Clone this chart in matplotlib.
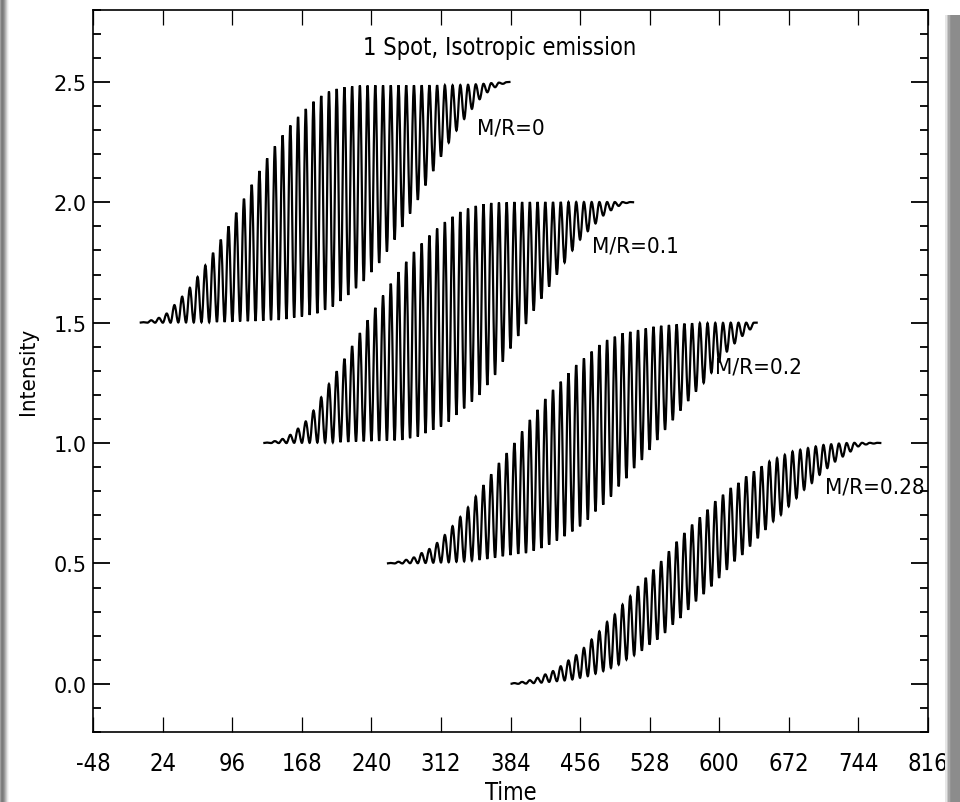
import os
import numpy as np
import matplotlib
matplotlib.use('Agg')
import matplotlib.pyplot as plt
from matplotlib import font_manager as fm
from matplotlib.ticker import MultipleLocator
from matplotlib.patches import Rectangle, PathPatch
from matplotlib.path import Path

# light curves: one trough / peak value per 8-unit rotation
labels = ['M/R=0', 'M/R=0.1', 'M/R=0.2', 'M/R=0.28']
t_start = [0, 128, 256, 384]
t_end = [384, 512, 640, 768]

peaks_0 = [1.502, 1.510, 1.520, 1.538, 1.573, 1.608, 1.645, 1.690, 1.738, 1.790,
           1.845, 1.900, 1.957, 2.015, 2.073, 2.130, 2.183, 2.233, 2.278, 2.319,
           2.355, 2.388, 2.418, 2.442, 2.460, 2.471, 2.478, 2.482, 2.485, 2.485,
           2.486, 2.486, 2.486, 2.486, 2.486, 2.486, 2.486, 2.486, 2.486, 2.486,
           2.486, 2.487, 2.488, 2.490, 2.492, 2.495, 2.497, 2.499]
troughs_0 = [1.500, 1.500, 1.500, 1.500, 1.500, 1.501, 1.501, 1.501, 1.502,
             1.502, 1.503, 1.503, 1.504, 1.505, 1.506, 1.507, 1.508, 1.510,
             1.511, 1.515, 1.521, 1.525, 1.532, 1.539, 1.553, 1.567, 1.590, 1.615, 1.643, 1.673,
             1.710, 1.748, 1.795, 1.845, 1.898, 1.953, 2.010, 2.070, 2.130, 2.190, 2.248, 2.298,
             2.346, 2.388, 2.428, 2.457, 2.478, 2.492, 2.500]

peaks_1 = [1.002, 1.008, 1.017, 1.034, 1.060, 1.090, 1.135, 1.190, 1.245, 1.298,
           1.350, 1.403, 1.457, 1.510, 1.562, 1.613, 1.662, 1.710, 1.753, 1.794,
           1.829, 1.862, 1.891, 1.918, 1.940, 1.960, 1.974, 1.985, 1.992, 1.997,
           1.999, 2.000, 2.001, 2.001, 2.001, 2.001, 2.001, 2.001, 2.001, 2.001,
           2.001, 2.001, 2.001, 2.001, 2.001, 2.001, 2.001, 2.001]
troughs_1 = [1.000, 1.000, 1.000, 1.000, 1.001, 1.001, 1.001, 1.002, 1.002,
             1.003, 1.004, 1.005, 1.006, 1.007, 1.008, 1.009, 1.010, 1.011,
             1.013, 1.020, 1.027, 1.041, 1.055, 1.068, 1.089, 1.117, 1.144, 1.172, 1.200, 1.241,
             1.283, 1.338, 1.393, 1.445, 1.495, 1.550, 1.600, 1.650, 1.700, 1.750, 1.800, 1.845,
             1.880, 1.912, 1.945, 1.967, 1.985, 1.997, 2.000]

peaks_2 = [0.502, 0.507, 0.515, 0.525, 0.543, 0.560, 0.585, 0.618, 0.655, 0.693,
           0.733, 0.778, 0.825, 0.870, 0.917, 0.958, 1.000, 1.048, 1.096, 1.138,
           1.183, 1.221, 1.255, 1.290, 1.324, 1.352, 1.380, 1.407, 1.428, 1.442,
           1.456, 1.462, 1.469, 1.476, 1.483, 1.487, 1.490, 1.493, 1.496, 1.497,
           1.498, 1.498, 1.499, 1.499, 1.500, 1.500, 1.500, 1.500]
troughs_2 = [0.500, 0.500, 0.500, 0.501, 0.501, 0.502, 0.503, 0.504, 0.505, 0.507,
             0.509, 0.512, 0.515, 0.519, 0.524,
             0.530, 0.535, 0.540, 0.543, 0.553, 0.564, 0.578, 0.595, 0.613, 0.633,
             0.654, 0.682, 0.716, 0.744, 0.778, 0.820, 0.854, 0.896, 0.930, 0.972,
             1.013, 1.055, 1.095, 1.135, 1.175, 1.214, 1.250, 1.292, 1.338, 1.380,
             1.414, 1.445, 1.472, 1.500]

peaks_3 = [0.003, 0.008, 0.015, 0.025, 0.039, 0.053, 0.073, 0.097, 0.119, 0.149,
           0.184, 0.218, 0.257, 0.288, 0.329, 0.364, 0.405, 0.440, 0.474, 0.509,
           0.550, 0.590, 0.626, 0.661, 0.691, 0.723, 0.758, 0.785, 0.813, 0.834,
           0.861, 0.882, 0.903, 0.923, 0.937, 0.951, 0.965, 0.972, 0.979, 0.986,
           0.992, 0.995, 0.998, 1.000, 1.001, 1.001, 1.001, 1.001]
troughs_3 = [0.000, 0.000, 0.001, 0.003, 0.005, 0.008, 0.011, 0.014, 0.018, 0.025,
             0.032, 0.042,
             0.053, 0.066, 0.080, 0.101, 0.119, 0.138, 0.163, 0.184, 0.212, 0.246,
             0.274, 0.308, 0.343, 0.373, 0.405, 0.440, 0.474, 0.509, 0.536, 0.571,
             0.605, 0.640, 0.675, 0.702, 0.737, 0.771, 0.806, 0.834, 0.868, 0.896,
             0.923, 0.944, 0.965, 0.986, 0.994, 0.998, 1.000]

peaks = [peaks_0, peaks_1, peaks_2, peaks_3]
troughs = [troughs_0, troughs_1, troughs_2, troughs_3]

x_ticks = [-48, 24, 96, 168, 240, 312, 384, 456, 528, 600, 672, 744, 816]
y_ticks = [0.0, 0.5, 1.0, 1.5, 2.0, 2.5]


def narrow_font(size):
    # look for a condensed sans face, fall back to DejaVu Sans
    prefer = ['liberationsansnarrow-regular', 'dejavusanscondensed.', 'notosans-condensed.',
              'notosans-semicondensed.', 'opensans-condensed', 'roboto-condensed']
    files = [f.fname for f in fm.fontManager.ttflist]
    for p in prefer:
        for fn in files:
            if os.path.basename(fn).lower().startswith(p):
                return fm.FontProperties(fname=fn, size=size)
    return fm.FontProperties(family='DejaVu Sans', size=size * 0.85)


fig = plt.figure(figsize=(9.6, 8.03), dpi=100)
ax = fig.add_axes([0.0972, 0.0872, 0.8692, 0.8995])

c = 0.36
for i in range(4):
    y = np.empty(len(peaks[i]) + len(troughs[i]))
    y[0::2] = troughs[i]
    y[1::2] = peaks[i]
    t = np.linspace(t_start[i], t_end[i], len(y))
    h = t[1] - t[0]
    verts = [(t[0], y[0])]
    codes = [Path.MOVETO]
    for j in range(len(y) - 1):
        verts += [(t[j] + c * h, y[j]), (t[j + 1] - c * h, y[j + 1]), (t[j + 1], y[j + 1])]
        codes += [Path.CURVE4] * 3
    ax.add_patch(PathPatch(Path(verts, codes), fill=False, edgecolor='black', lw=1.6))

ax.set_xlim(-48, 816)
ax.set_ylim(-0.2, 2.8)
ax.set_xticks(x_ticks)
ax.set_xticklabels([str(v) for v in x_ticks], fontproperties=narrow_font(17))
ax.set_yticks(y_ticks)
ax.set_yticklabels(['%.1f' % v for v in y_ticks], family='DejaVu Sans', fontsize=15)
ax.yaxis.set_minor_locator(MultipleLocator(0.1))
ax.tick_params(axis='x', which='major', direction='in', top=True, length=11, width=0.9, pad=14)
ax.tick_params(axis='y', which='major', direction='in', right=True, length=12.5, width=1.3, pad=5)
ax.tick_params(axis='y', which='minor', direction='in', right=True, length=6, width=1.3)
for s in ax.spines.values():
    s.set_linewidth(1.2)

ax.set_xlabel('Time', fontproperties=narrow_font(17))
ax.xaxis.set_label_coords(0.5, -0.066)
ax.set_ylabel('Intensity', fontproperties=narrow_font(16))
ax.yaxis.set_label_coords(-0.066, 0.5)

ax.text(0.487, 0.948, '1 Spot, Isotropic emission', transform=ax.transAxes,
        ha='center', va='center', fontproperties=narrow_font(17))

label_pos = [(349, 2.312), (468, 1.820), (596, 1.318), (710, 0.821)]
for lab, (lx, ly) in zip(labels, label_pos):
    ax.text(lx, ly, lab, ha='left', va='center', fontproperties=narrow_font(16))

# grey frame shadow along the left and right edges
for k, g in enumerate([0.62, 0.5, 0.48, 0.52, 0.6, 0.7, 0.8, 0.9, 0.96]):
    fig.add_artist(Rectangle((k / 960, 0), 1.2 / 960, 1, transform=fig.transFigure,
                             color=str(g), lw=0))
for k, g in enumerate([0.9, 0.78, 0.66, 0.58]):
    fig.add_artist(Rectangle(((945 + k * 1.5) / 960, 0), 1.5 / 960, 1 - 16 / 803,
                             transform=fig.transFigure, color=str(g), lw=0))
fig.add_artist(Rectangle((951 / 960, 0), 9 / 960, 1 - 16 / 803, transform=fig.transFigure,
                         color='0.55', lw=0))

fig.savefig('out.png', dpi=100)
